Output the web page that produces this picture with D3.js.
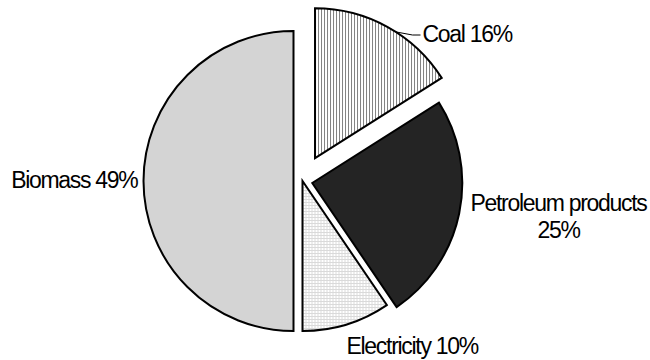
<!DOCTYPE html>
<html>
<head>
<meta charset="utf-8">
<script src="https://cdn.jsdelivr.net/npm/d3@7"></script>
<style>
  html, body { margin: 0; padding: 0; background: #fff; }
  svg { display: block; }
  text { font-family: "Liberation Sans", Arial, sans-serif; font-size: 23px; letter-spacing: -1.3px; fill: #000; }
</style>
</head>
<body>
<svg id="chart" width="650" height="360"></svg>
<script>
// ---- data ----
const categories = ["Coal", "Petroleum products", "Electricity", "Biomass"];
const shares = [16, 24.5, 9.5, 50];          // slice sizes as drawn
const labelPercents = [16, 25, 10, 49];      // percentages printed on the labels

// ---- layout / style ----
const W = 650, H = 360;
const cx = 302.5, cy = 181, R = 150;
const explode = [26, 10, 0, 9];
const fills = ["url(#vlines)", "#242424", "url(#grid)", "#d4d4d4"];

const svg = d3.select("#chart");
const defs = svg.append("defs");

const pv = defs.append("pattern").attr("id", "vlines")
  .attr("patternUnits", "userSpaceOnUse").attr("width", 3).attr("height", 3);
pv.append("rect").attr("width", 3).attr("height", 3).attr("fill", "#fff");
pv.append("rect").attr("x", 0).attr("width", 1).attr("height", 3).attr("fill", "#808080");

const pg = defs.append("pattern").attr("id", "grid")
  .attr("patternUnits", "userSpaceOnUse").attr("width", 3).attr("height", 3);
pg.append("rect").attr("width", 3).attr("height", 3).attr("fill", "#fff");
pg.append("rect").attr("x", 0).attr("y", 0).attr("width", 3).attr("height", 1).attr("fill", "#dadada");
pg.append("rect").attr("x", 0).attr("y", 0).attr("width", 1).attr("height", 3).attr("fill", "#dadada");

const pie = d3.pie().sort(null).value(d => d.value).startAngle(0).endAngle(2 * Math.PI);
const arc = d3.arc().innerRadius(0).outerRadius(R);

const data = categories.map((c, i) => ({ name: c, value: shares[i], pct: labelPercents[i], ex: explode[i], fill: fills[i] }));
const arcs = pie(data);

const g = svg.append("g").attr("transform", `translate(${cx},${cy})`);

g.selectAll("path.slice").data(arcs).enter().append("path")
  .attr("class", "slice")
  .attr("d", arc)
  .attr("fill", d => d.data.fill)
  .attr("stroke", "#000")
  .attr("stroke-width", 2)
  .attr("stroke-linejoin", "miter")
  .attr("transform", d => {
    const a = (d.startAngle + d.endAngle) / 2;
    return `translate(${d.data.ex * Math.sin(a)},${-d.data.ex * Math.cos(a)})`;
  });

// ---- labels ----
const coal = arcs[0];
const coalA = (coal.startAngle + coal.endAngle) / 2;
const coalOff = [coal.data.ex * Math.sin(coalA), -coal.data.ex * Math.cos(coalA)];
const leadA = 0.57;
const p0 = [coalOff[0] + R * Math.sin(leadA), coalOff[1] - R * Math.cos(leadA)];
g.append("path")
  .attr("d", `M${p0[0]},${p0[1]} L${110},${-146} L${118},${-146}`)
  .attr("fill", "none").attr("stroke", "#000").attr("stroke-width", 1);

g.append("text").attr("x", 120).attr("y", -139)
  .attr("text-anchor", "start")
  .text(`${coal.data.name} ${coal.data.pct}%`);

const pet = arcs[1];
const petText = g.append("text").attr("text-anchor", "middle");
petText.append("tspan").attr("x", 256).attr("y", 30).text(pet.data.name);
petText.append("tspan").attr("x", 256).attr("y", 57).text(`${pet.data.pct}%`);

const ele = arcs[2];
g.append("text").attr("x", 44).attr("y", 173).attr("text-anchor", "start")
  .text(`${ele.data.name} ${ele.data.pct}%`);

const bio = arcs[3];
g.append("text").attr("x", -165).attr("y", 7).attr("text-anchor", "end")
  .text(`${bio.data.name} ${bio.data.pct}%`);
</script>
</body>
</html>
